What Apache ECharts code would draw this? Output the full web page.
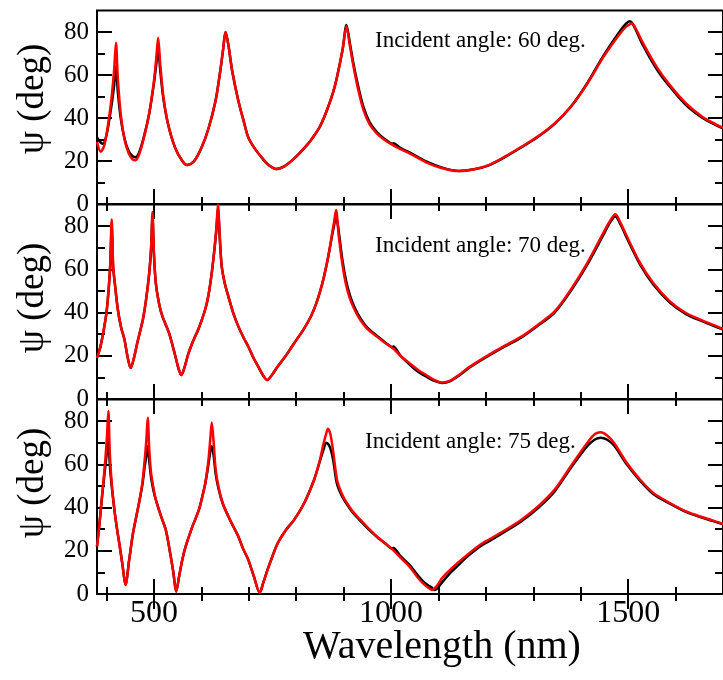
<!DOCTYPE html>
<html>
<head>
<meta charset="utf-8">
<script src="https://cdn.jsdelivr.net/npm/echarts@6/dist/echarts.min.js"></script>
<style>
html,body{margin:0;padding:0;background:#fff;}
#chart{width:723px;height:680px;}
</style>
</head>
<body>
<div id="chart"></div>
<script>
// ---- data ----
const xMajorTicks = [500, 1000, 1500];
const xMinorTicks = [400, 600, 700, 800, 900, 1100, 1200, 1300, 1400, 1600];
const yMajorTicks = [20, 40, 60, 80];
const yMinorTicks = [10, 30, 50, 70];
const yTickLabels = [0, 20, 40, 60, 80];
const panelLabels = ['Incident angle: 60 deg.', 'Incident angle: 70 deg.', 'Incident angle: 75 deg.'];

const black60 = [[380,31],[386,29],[392,28],[400,32],[410,45],[416,55],[420,63.9],[424,52],[430,40],[438,30.5],[447,24.5],[455,22.2],[461,21.7],[468,23.5],[478,30.5],[490,42],[500,56],[505,65],[509,73],[513,63],[520,49],[530,37],[545,26],[560,20],[570,18.1],[585,20],[600,26],[615,35],[630,48],[640,62],[646,72],[651,80],[657,74],[665,62],[678,48],[690,38],[699,31],[712,26],[726,22],[740,18.5],[758,16.3],[775,17.5],[796,21.2],[815,25.5],[831,29.7],[850,36],[865,43.7],[878,52],[886,59],[898,72],[906,83.2],[913,75],[921,65],[930,55.5],[942,45],[955,38],[970,33.5],[985,30.5],[1003,28],[1005,28.3],[1020,26],[1039,24],[1074,19.8],[1108,16.9],[1143,15.4],[1178,16.3],[1206,18],[1240,21.8],[1275,26.4],[1310,31.3],[1345,37.3],[1379,45.2],[1414,56.3],[1448,69],[1483,80.5],[1496,84],[1503,85],[1508,84.3],[1515,81.5],[1532,73.5],[1560,62.8],[1588,54.5],[1622,46],[1657,40],[1684,36.8],[1700,35.2]];
const red60 = [[380,28.9],[388,24.3],[395,27],[402,35],[410,48],[416,62],[420,75],[424,58],[430,42],[438,30],[447,23.5],[455,20.8],[461,20.4],[468,22.5],[478,30],[490,42],[500,57],[505,68],[509,77.3],[513,66],[520,50],[530,37],[545,26],[560,20],[570,18.1],[585,20],[600,26],[615,35],[630,48],[640,62],[646,72],[651,80],[657,74],[665,62],[678,48],[690,38],[699,31],[712,26],[726,22],[740,18.5],[758,16.3],[775,17.5],[796,21.2],[815,25.5],[831,29.7],[850,36],[865,43.7],[878,52],[886,59],[898,72],[906,82.7],[913,74],[921,63.8],[930,54],[942,43.7],[955,37],[970,32.8],[985,30],[1004,27.4],[1020,25.5],[1039,23.5],[1074,19.4],[1108,16.6],[1143,15.3],[1178,16.3],[1206,18.1],[1240,22],[1275,26.6],[1310,31.5],[1345,37.5],[1379,45.2],[1414,56],[1448,68.4],[1483,79.3],[1496,82.5],[1508,84],[1515,82],[1532,74.6],[1560,63.8],[1588,55.3],[1622,46.8],[1657,40.5],[1684,37.2],[1700,35.5]];

const black70 = [[380,19.4],[387,24],[393,30.5],[400,40],[405,52],[408,62],[411,80],[414,61],[417.5,53.7],[424,41.3],[431,33],[438,27.4],[444,20],[451,14.3],[458,19],[465,26],[470,30.5],[477,37],[483.5,46],[490,58],[494,69],[497,84],[500,67],[504,53.7],[511,44],[518,38.2],[532,30.5],[545,20],[552,14],[558,11.1],[565,15],[572,20.5],[581,25.9],[595,33],[608,41.3],[615,48],[622,58.4],[628,70],[632,79],[635,88],[639,74],[643,61.4],[650,53],[657,47.5],[667,40],[678,33.6],[690,28],[699,24.3],[710,19],[720,15],[730,11],[739,8.8],[750,11.5],[761,15],[778,20],[796,25.9],[815,32],[831,38.2],[842,44],[851.5,50.6],[858,56],[865,63],[871,70],[876,76],[880,80.5],[884,84.7],[890,77],[897,65],[905,55],[914,47.5],[925,41.5],[935,37.5],[950,33],[970,29.3],[987,26.3],[1003,24],[1005,24.3],[1020,20],[1039,16],[1055,13],[1074,10.4],[1090,8.5],[1108,7.4],[1125,8.3],[1143,10.8],[1160,13.7],[1178,16.3],[1206,20],[1240,24.3],[1275,28.5],[1310,34],[1345,40],[1379,50],[1414,62.3],[1448,76],[1462,81.7],[1473,84.4],[1485,80.3],[1497,74.6],[1525,62.3],[1553,53],[1588,44.6],[1622,39.3],[1657,35.9],[1684,33.5],[1700,32.2]];
const red70 = [[380,18.9],[387,24],[393,30.5],[400,40],[405,52],[408,63],[411,83.1],[414,62],[417.5,53.7],[424,41.3],[431,33],[438,27.4],[444,20],[451,14.3],[458,19],[465,26],[470,30.5],[477,37],[483.5,46],[490,58],[494,70],[497,86.5],[500,68],[504,53.7],[511,44],[518,38.2],[532,30.5],[545,20],[552,14],[558,11.1],[565,15],[572,20.5],[581,25.9],[595,33],[608,41.3],[615,48],[622,58.4],[628,70],[632,80],[635,90],[639,75],[643,61.4],[650,53],[657,47.5],[667,40],[678,33.6],[690,28],[699,24.3],[710,19],[720,15],[730,11],[739,8.8],[750,11.5],[761,15],[778,20],[796,25.9],[815,32],[831,38.2],[842,44],[851.5,50.6],[858,56],[865,63],[871,70],[876,77],[880,82],[884,87.5],[890,75],[897,63],[905,53],[914,46],[925,40.5],[935,36.7],[950,32.5],[970,28.9],[987,26],[1004,23.5],[1020,20],[1039,16.6],[1055,13.8],[1074,11.1],[1090,9],[1108,7.6],[1125,8.5],[1143,11.1],[1160,14],[1178,16.6],[1206,20.4],[1240,24.7],[1275,28.9],[1310,34.4],[1345,40.5],[1379,50.6],[1414,63],[1448,77],[1462,82.5],[1473,85.5],[1485,81],[1497,75.4],[1525,63],[1553,53.7],[1588,45.2],[1622,39.8],[1657,36.3],[1684,33.9],[1700,32.5]];

const black75 = [[380,22],[385,32],[390,43.7],[397,58],[401,66],[404,71.5],[407,60],[411,50],[417.5,37.5],[423,29],[428,22],[434,13],[440,4.2],[448,16],[456,28.2],[463,36],[470,43.7],[476,51],[480,58],[484,64],[487,68.4],[490,62],[494,54],[500,47],[504,43.7],[515,36],[525,29.7],[535,18],[541,10],[547,1.1],[553,8],[560,16],[567,22],[580,30.5],[595,39],[602,45],[608.5,51.4],[615,60],[619,66],[622,68.4],[626,64],[630,56],[636,49],[645,42],[657,35.9],[668,31],[678,26.6],[688,21],[699,15.8],[711,8],[723,0.6],[731,5.5],[740,11.5],[750,17.5],[761,23.5],[778,29.5],[796,34.4],[817,42.1],[838,53],[850,61.5],[858,67],[863,70],[867,69.5],[872,67.5],[878,62],[886,51],[896,45.5],[907,41.5],[920,37.5],[935,34],[950,30.5],[970,26.5],[987,23.6],[1003,21],[1005,21.3],[1020,17.5],[1039,13.5],[1055,9],[1067,6],[1078,4],[1086,3],[1091,1.9],[1096,2.3],[1108,5.5],[1125,9.8],[1143,13.6],[1160,17.2],[1178,20.4],[1195,23],[1206,24.3],[1240,28.8],[1275,33.7],[1310,39.8],[1345,47.5],[1379,58.3],[1414,68.5],[1430,71.5],[1442,72.3],[1455,71.5],[1470,68.8],[1497,60],[1525,52.5],[1553,46.3],[1588,41.8],[1622,38],[1657,35.3],[1684,33.4],[1700,32.3]];
const red75 = [[380,22],[385,32],[390,43.7],[397,60.7],[401,73],[404,84.7],[407,65],[411,51.4],[417.5,37.5],[423,29],[428,22],[434,13],[440,4.2],[448,16],[456,28.2],[463,36],[470,43.7],[476,52],[480,60.7],[484,71],[487,81.6],[490,68],[494,56],[500,48],[504,43.7],[515,36],[525,29.7],[535,18],[541,10],[547,1.1],[553,8],[560,16],[567,22],[580,30.5],[595,39],[602,45],[608.5,51.4],[615,62],[619,72],[622,79.3],[626,70],[630,58],[636,49.8],[645,42],[657,35.9],[668,31],[678,26.6],[688,21],[699,15.8],[711,8],[723,0.6],[731,5.5],[740,11.5],[750,17.5],[761,23.5],[778,29.5],[796,34.4],[817,42.1],[838,53],[850,62],[858,70],[863,74],[867,76.5],[872,74],[878,66],[886,53],[896,46.5],[907,42.1],[920,38],[935,34.4],[950,31],[970,26.6],[987,23.5],[1004,20.4],[1020,16.8],[1039,12.7],[1055,8],[1067,5],[1078,3],[1086,1.9],[1096,3.5],[1108,7.5],[1125,11.3],[1143,14.8],[1160,18],[1178,21.2],[1195,23.8],[1206,25.1],[1240,29.5],[1275,34.4],[1310,40.5],[1345,48.3],[1379,59.1],[1414,70],[1430,74],[1442,74.9],[1455,73.5],[1470,70],[1497,60.7],[1525,53],[1553,46.8],[1588,42.1],[1622,38.2],[1657,35.5],[1684,33.6],[1700,32.5]];

const panels = [
  {black: black60, red: red60},
  {black: black70, red: red70},
  {black: black75, red: red75}
];

// ---- layout ----
const FONT = '"Liberation Serif", "Times New Roman", serif';
const X_MIN = 380, X_MAX = 1700, Y_MIN = 0, Y_MAX = 90;
const gridLeft = 97, gridWidth = 633.6;
const gridTops = [10.5, 204.5, 399.5];
const gridHeights = [193.5, 194.5, 194.5];
const labelPos = [[375, 42], [375, 247], [365, 443]];
const psiPos = [[33, 99], [33, 298], [33, 483]];

const grids = [], xAxes = [], yAxes = [], series = [], graphics = [];
const tickStyle = {color: '#000', width: 2};

panels.forEach((p, i) => {
  grids.push({left: gridLeft, width: gridWidth, top: gridTops[i], height: gridHeights[i],
    show: true, borderColor: '#000', borderWidth: 2, backgroundColor: 'transparent'});
  const xBase = {type: 'value', gridIndex: i, min: X_MIN, max: X_MAX,
    axisLine: {show: false}, splitLine: {show: false}};
  [['bottom', xMajorTicks, 15, true], ['bottom', xMinorTicks, 7, false],
   ['top', xMajorTicks, 15, false], ['top', xMinorTicks, 7, false]].forEach(([pos, vals, len, lab]) => {
    xAxes.push(Object.assign({}, xBase, {
      position: pos,
      axisTick: {show: true, inside: true, length: len, customValues: vals, lineStyle: tickStyle},
      axisLabel: (lab && i === 2) ? {show: true, customValues: xMajorTicks, color: '#000',
        fontFamily: FONT, fontSize: 32, margin: 4, formatter: v => String(v)} : {show: false}
    }));
  });
  const yBase = {type: 'value', gridIndex: i, min: Y_MIN, max: Y_MAX,
    axisLine: {show: false}, splitLine: {show: false}};
  [['left', yMajorTicks, 15, true], ['left', yMinorTicks, 8, false],
   ['right', yMajorTicks, 15, false], ['right', yMinorTicks, 8, false]].forEach(([pos, vals, len, lab]) => {
    yAxes.push(Object.assign({}, yBase, {
      position: pos,
      axisTick: {show: true, inside: true, length: len, customValues: vals, lineStyle: tickStyle},
      axisLabel: lab ? {show: true, customValues: yTickLabels, color: '#000',
        fontFamily: FONT, fontSize: 25, margin: 8, formatter: v => String(v)} : {show: false}
    }));
  });
  series.push({type: 'line', xAxisIndex: 4 * i, yAxisIndex: 4 * i, data: p.black,
    showSymbol: false, smooth: 0.3, lineStyle: {color: '#000', width: 2.5}, z: 3});
  series.push({type: 'line', xAxisIndex: 4 * i, yAxisIndex: 4 * i, data: p.red,
    showSymbol: false, smooth: 0.3, lineStyle: {color: '#ff0000', width: 2.5}, z: 4});
  graphics.push({type: 'text', left: labelPos[i][0], top: labelPos[i][1] - 13,
    style: {text: panelLabels[i], fill: '#000', font: '23px ' + FONT}});
  graphics.push({type: 'text', x: psiPos[i][0], y: psiPos[i][1], rotation: Math.PI / 2,
    style: {text: 'ψ (deg)', fill: '#000', font: '37px ' + FONT, align: 'center', verticalAlign: 'middle'}});
});
graphics.push({type: 'text', x: 442, y: 647,
  style: {text: 'Wavelength (nm)', fill: '#000', font: '40px ' + FONT, align: 'center', verticalAlign: 'middle'}});

const chart = echarts.init(document.getElementById('chart'), null, {renderer: 'canvas'});
chart.setOption({
  animation: false,
  backgroundColor: '#fff',
  grid: grids, xAxis: xAxes, yAxis: yAxes, series: series, graphic: graphics
});
</script>
</body>
</html>
